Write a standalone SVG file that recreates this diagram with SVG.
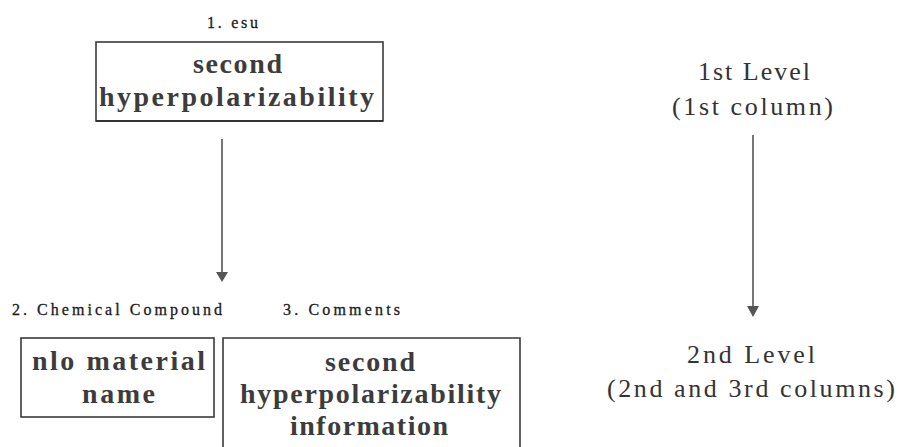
<svg xmlns="http://www.w3.org/2000/svg" width="901" height="447" viewBox="0 0 901 447">
  <style>
    .box { fill: none; stroke: #3a3a3a; stroke-width: 1.6; }
    .boxtxt { font-family: "Liberation Serif", "Times New Roman", serif; font-weight: bold; font-size: 28px; fill: #3c3c3c; }
    .cap { font-family: "Liberation Serif", "Times New Roman", serif; font-size: 16px; fill: #1a1a1a; stroke: #1a1a1a; stroke-width: 0.3; }
    .level { font-family: "Liberation Serif", "Times New Roman", serif; font-size: 26px; fill: #333; }
    .conn { stroke: #4a4a4a; stroke-width: 1.5; fill: none; }
    .head { fill: #555; }
  </style>
  <rect width="901" height="447" fill="#ffffff"/>

  <!-- 1st column node -->
  <g id="node-esu">
    <text class="cap" x="207" y="28" textLength="51" lengthAdjust="spacing" font-size="14" stroke-width="0">1.  esu</text>
    <rect class="box" x="96" y="42" width="287" height="79"/>
    <line x1="96" y1="121" x2="383" y2="121" stroke="#333" stroke-width="2.2"/>
    <text class="boxtxt" x="193" y="73" textLength="89" lengthAdjust="spacing">second</text>
    <text class="boxtxt" x="99" y="106" textLength="275" lengthAdjust="spacing">hyperpolarizability</text>
  </g>

  <!-- 2nd column node -->
  <g id="node-compound">
    <text class="cap" x="12" y="315" textLength="210" lengthAdjust="spacing">2. Chemical Compound</text>
    <rect class="box" x="21" y="338" width="193" height="79"/>
    <text class="boxtxt" x="32" y="370" textLength="173" lengthAdjust="spacing">nlo  material</text>
    <text class="boxtxt" x="82" y="403" textLength="73" lengthAdjust="spacing">name</text>
  </g>

  <!-- 3rd column node -->
  <g id="node-comments">
    <text class="cap" x="283" y="315" textLength="117" lengthAdjust="spacing">3.  Comments</text>
    <path class="box" d="M223,448 L223,338 L520,338 L520,448"/>
    <text class="boxtxt" x="325" y="371" textLength="90" lengthAdjust="spacing">second</text>
    <text class="boxtxt" x="240" y="403" textLength="261" lengthAdjust="spacing">hyperpolarizability</text>
    <text class="boxtxt" x="290" y="435" textLength="158" lengthAdjust="spacing">information</text>
  </g>

  <!-- level legend -->
  <g id="node-level1">
    <text class="level" x="698" y="80" textLength="112" lengthAdjust="spacing">1st Level</text>
    <text class="level" x="672" y="115" textLength="161" lengthAdjust="spacing">(1st column)</text>
  </g>
  <g id="node-level2">
    <text class="level" x="687" y="363" textLength="128" lengthAdjust="spacing">2nd Level</text>
    <text class="level" x="607" y="397" textLength="288" lengthAdjust="spacing">(2nd and 3rd columns)</text>
  </g>

  <!-- connectors -->
  <g id="connectors">
    <line class="conn" x1="222" y1="139" x2="222" y2="272"/>
    <path class="head" d="M216,272 L228,272 L222,282 Z"/>
    <line class="conn" x1="753" y1="135" x2="753" y2="306"/>
    <path class="head" d="M747,306 L759,306 L753,317 Z"/>
  </g>
</svg>
